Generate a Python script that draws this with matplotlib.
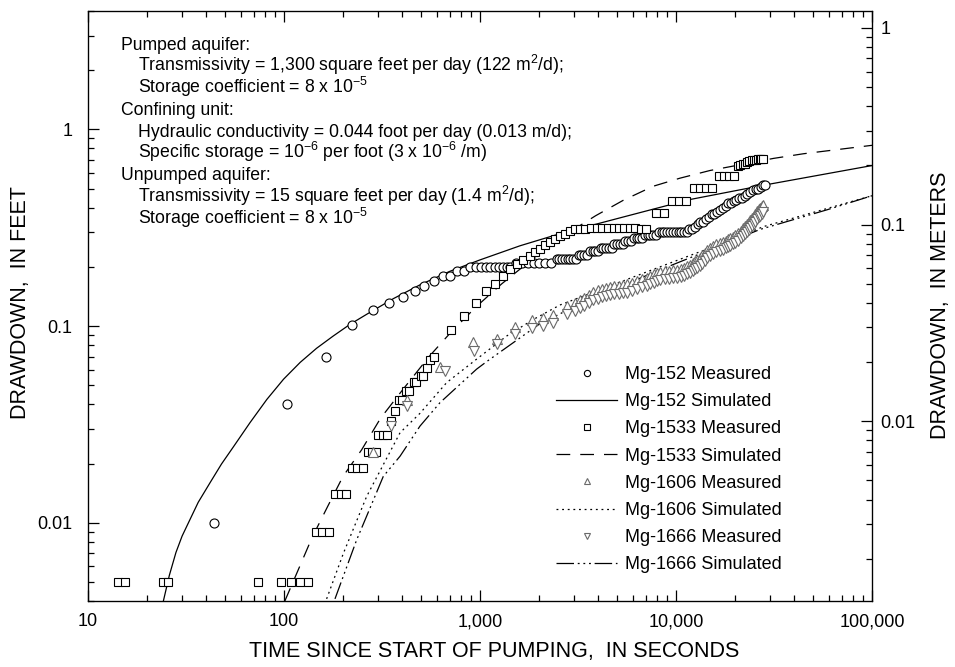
import numpy as np
import matplotlib
matplotlib.use("Agg")
import matplotlib.pyplot as plt
from matplotlib.ticker import LogLocator, NullFormatter, FixedLocator, FixedFormatter
from matplotlib.lines import Line2D

plt.rcParams["font.family"] = "Liberation Sans"
plt.rcParams["mathtext.fontset"] = "custom"
plt.rcParams["mathtext.rm"] = "Liberation Sans"
plt.rcParams["mathtext.default"] = "regular"

# ── Measured drawdown (time in seconds, drawdown in feet) ─────
t152 = [44, 103, 164, 223, 284, 345, 404, 464, 520, 582, 646, 703, 766, 825,
        889, 950, 1010, 1070, 1130, 1190, 1250, 1310, 1370, 1430,
        1530, 1640, 1760, 1880, 2010, 2150, 2300,
        2460, 2540, 2620, 2710, 2800, 2890, 2990, 3090, 3190, 3290, 3400, 3510,
        3630, 3750, 3870, 4000, 4130, 4260, 4400, 4550, 4700, 4850, 5000, 5170,
        5350, 5520, 5700, 5900, 6100, 6300, 6500, 6720, 6950, 7170, 7400, 7650,
        7900, 8170, 8450, 8720, 9000, 9300, 9600, 9950, 10300, 10650, 11000, 11350,
        11700, 12100, 12500, 12900, 13300, 13750, 14200, 14700, 15200, 15700,
        16200, 16750, 17300, 17900, 18500, 19100, 19700, 20300, 21000, 21700,
        22400, 23100, 23900, 24700, 25500, 26200, 27000, 27700, 28400]
s152 = [0.010, 0.040, 0.070, 0.101, 0.121, 0.131, 0.141, 0.150, 0.160, 0.170, 0.180, 0.180, 0.190, 0.191,
        0.20, 0.20, 0.20, 0.20, 0.20, 0.20, 0.20, 0.20, 0.20, 0.20,
        0.21, 0.21, 0.21, 0.21, 0.21, 0.21, 0.21,
        0.22, 0.22, 0.22, 0.22, 0.22, 0.22, 0.22, 0.22, 0.23, 0.23, 0.23, 0.23,
        0.24, 0.24, 0.24, 0.24, 0.25, 0.25, 0.25, 0.25, 0.25, 0.26, 0.26, 0.26,
        0.26, 0.27, 0.27, 0.27, 0.28, 0.28, 0.28, 0.28, 0.29, 0.29, 0.29, 0.29,
        0.29, 0.30, 0.30, 0.30, 0.30, 0.30, 0.30, 0.30, 0.30, 0.30, 0.30, 0.30,
        0.31, 0.31, 0.32, 0.33, 0.34, 0.34, 0.35, 0.36, 0.37, 0.37,
        0.38, 0.39, 0.40, 0.41, 0.42, 0.42, 0.43, 0.44, 0.45, 0.45,
        0.46, 0.47, 0.48, 0.49, 0.50, 0.50, 0.51, 0.52, 0.52]

t1533 = [14.2, 15.5, 24.2, 25.6, 74, 97, 109, 121, 133,
         146, 157, 169, 183, 195, 207, 221, 237, 253, 267, 280, 294,
         303, 319, 336, 350, 367, 388, 400, 420, 432, 460, 472, 498, 510,
         534, 556, 585, 711, 832, 955, 1070, 1193, 1305,
         1422, 1538, 1663, 1800, 1908, 2024, 2147, 2276, 2414, 2560, 2714, 2877,
         3050, 3250, 3450, 3700, 3950, 4200, 4500, 4800, 5100, 5450, 5800, 6200,
         6600, 7000, 7900, 8700, 9500, 10300, 11200,
         12400, 13300, 14200, 15200, 16600, 17600, 18600, 19700,
         20700, 21300, 21900, 22500, 23100, 23700, 24300, 24900, 25500,
         26100, 26700, 27300, 27900]
s1533 = [0.005, 0.005, 0.005, 0.005, 0.005, 0.005, 0.005, 0.005, 0.005,
         0.009, 0.009, 0.009, 0.014, 0.014, 0.014, 0.019, 0.019, 0.019, 0.023, 0.023, 0.023,
         0.028, 0.028, 0.028, 0.033, 0.037, 0.042, 0.042, 0.047, 0.047, 0.052, 0.052, 0.056, 0.056,
         0.061, 0.067, 0.070, 0.095, 0.112, 0.131, 0.150, 0.164, 0.179,
         0.194, 0.207, 0.218, 0.227, 0.238, 0.247, 0.257, 0.267, 0.278, 0.287, 0.295, 0.303,
         0.31, 0.31, 0.31, 0.315, 0.315, 0.315, 0.315, 0.315, 0.315, 0.315, 0.315, 0.315,
         0.31, 0.31, 0.377, 0.377, 0.434, 0.434, 0.434,
         0.506, 0.506, 0.506, 0.506, 0.582, 0.582, 0.582, 0.582,
         0.655, 0.66, 0.665, 0.67, 0.68, 0.69, 0.70, 0.70, 0.70,
         0.705, 0.71, 0.71, 0.71]

t1606 = [283, 426, 625, 925, 1217, 1510, 1837, 2106, 2366, 2768,
         3053, 3220, 3400, 3590, 3780, 3990, 4200, 4400, 4600, 4850, 5100, 5360,
         5620, 5950, 6300, 6700, 7110, 7400, 7700, 7990, 8280, 8740, 9200, 9650,
         10100, 10550, 11000, 11400, 11800, 12150, 12500, 12850, 13200, 13600,
         14000, 14450, 14900, 15450, 16000, 16700, 17400, 17900, 18400, 18950,
         19500, 20100, 20700, 21350, 22000, 22500, 23000, 23450, 23900, 24400,
         24900, 25400, 25900, 26400, 26900, 27350, 27800]
s1606 = [0.023, 0.042, 0.062, 0.083, 0.086, 0.099, 0.107, 0.110, 0.114, 0.126,
         0.131, 0.135, 0.139, 0.144, 0.149, 0.152, 0.155, 0.157, 0.158, 0.159, 0.160, 0.161,
         0.163, 0.166, 0.170, 0.173, 0.176, 0.180, 0.183, 0.186, 0.189, 0.190, 0.191, 0.192,
         0.193, 0.195, 0.198, 0.201, 0.205, 0.209, 0.213, 0.217, 0.222, 0.229,
         0.236, 0.243, 0.250, 0.255, 0.260, 0.264, 0.268, 0.272, 0.276, 0.280,
         0.285, 0.291, 0.298, 0.306, 0.315, 0.322, 0.330, 0.337, 0.345, 0.353,
         0.362, 0.373, 0.385, 0.392, 0.400, 0.408, 0.415]

t1666 = [351, 426, 662, 931, 1222, 1510, 1837, 2106, 2366, 2768,
         3053, 3220, 3400, 3590, 3780, 3990, 4200, 4400, 4600, 4850, 5100, 5360,
         5620, 5950, 6300, 6700, 7110, 7400, 7700, 7990, 8280, 8740, 9200, 9650,
         10100, 10550, 11000, 11400, 11800, 12150, 12500, 12850, 13200, 13600,
         14000, 14450, 14900, 15450, 16000, 16700, 17400, 17900, 18400, 18950,
         19500, 20100, 20700, 21350, 22000, 22500, 23000, 23450, 23900, 24400,
         24900, 25400, 25900, 26400, 26900, 27350, 27800]
s1666 = [0.031, 0.039, 0.059, 0.0745, 0.081, 0.091, 0.098, 0.100, 0.104, 0.115,
         0.119, 0.123, 0.127, 0.131, 0.135, 0.138, 0.141, 0.143, 0.144, 0.145, 0.146, 0.147,
         0.148, 0.151, 0.155, 0.158, 0.160, 0.163, 0.166, 0.169, 0.171, 0.173, 0.174, 0.175,
         0.176, 0.178, 0.180, 0.183, 0.186, 0.190, 0.194, 0.198, 0.202, 0.208,
         0.215, 0.222, 0.228, 0.233, 0.237, 0.241, 0.245, 0.249, 0.252, 0.256,
         0.260, 0.266, 0.272, 0.280, 0.287, 0.294, 0.300, 0.308, 0.315, 0.322,
         0.330, 0.340, 0.350, 0.357, 0.364, 0.371, 0.378]

# ── Simulated drawdown ─────────────────────────────────────────
sim_t152 = [24.2, 26.0, 28.1, 30.2, 32.5, 36.5, 42.3, 48.0, 55, 67.1, 81.8, 99.5, 121,
            146.6, 178, 217, 265, 362, 494, 703, 1000, 1600, 2560, 5180, 11780,
            29100, 100000]
sim_s152 = [0.00397, 0.0054, 0.00706, 0.00855, 0.00997, 0.0127, 0.0162, 0.0199, 0.0242,
            0.0323, 0.0424, 0.0537, 0.0654, 0.0771, 0.0889, 0.102, 0.115, 0.138, 0.162,
            0.190, 0.217, 0.256, 0.295, 0.355, 0.44, 0.524, 0.655]

sim_t1533 = [101, 122, 139, 167, 200, 249, 311, 405, 550, 716, 961, 1291,
             2000, 2990, 3890, 5380, 7650, 10480, 14900, 31400, 44700, 100000]
sim_s1533 = [0.004, 0.0062, 0.0084, 0.0121, 0.0172, 0.0235, 0.034, 0.0477, 0.070, 0.0938, 0.126, 0.164,
             0.233, 0.309, 0.364, 0.436, 0.514, 0.565, 0.618, 0.712, 0.752, 0.83]

sim_t1606 = [165, 201, 264, 391, 494, 676, 961, 1368, 1870, 2560, 4600, 8280,
             21200, 27800, 100000]
sim_s1606 = [0.0041, 0.0070, 0.0136, 0.0287, 0.0360, 0.0516, 0.0679, 0.089, 0.108, 0.128, 0.160, 0.200,
             0.285, 0.320, 0.46]

sim_t1666 = [182, 235, 264, 321, 391, 494, 625, 961, 1082, 2000, 3500, 8280,
             15000, 26840, 58900, 100000]
sim_s1666 = [0.0041, 0.0082, 0.0108, 0.0172, 0.0218, 0.031, 0.0408, 0.0604, 0.066, 0.102, 0.135, 0.193,
             0.245, 0.31, 0.39, 0.46]

x_ticks = [10, 100, 1000, 10000, 100000]
x_labels = ["10", "100", "1,000", "10,000", "100,000"]
ft_ticks = [0.01, 0.1, 1]
ft_labels = ["0.01", "0.1", "1"]
m_ticks = [0.01, 0.1, 1]
m_labels = ["0.01", "0.1", "1"]
FT_PER_M = 3.2808

notes = [
    ("Pumped aquifer:", 0),
    ("Transmissivity = 1,300 square feet per day (122 m$^{2}$/d);", 1),
    ("Storage coefficient = 8 x 10$^{-5}$", 1),
    ("Confining unit:", 0),
    ("Hydraulic conductivity = 0.044 foot per day (0.013 m/d);", 1),
    ("Specific storage = 10$^{-6}$ per foot (3 x 10$^{-6}$ /m)", 1),
    ("Unpumped aquifer:", 0),
    ("Transmissivity = 15 square feet per day (1.4 m$^{2}$/d);", 1),
    ("Storage coefficient = 8 x 10$^{-5}$", 1),
]

# line styles per well
DASH_1533 = (11, 8)
DOT_1606 = (1.5, 3)
DASHDOT_1666 = (14, 3, 1.5, 3, 1.5, 3, 1.5, 3)
TRI_GREY = "#6a6a6a"

# ── Figure ─────────────────────────────────────────────────────
fig = plt.figure(figsize=(9.55, 6.67), dpi=100)
ax = fig.add_axes([88 / 955, 66 / 667, 784 / 955, 590 / 667])
ax.set_xscale("log")
ax.set_yscale("log")
ax.set_xlim(10, 100000)
ax.set_ylim(0.004, 4)

lw = 0.9
ax.plot(sim_t152, sim_s152, color="black", lw=lw, zorder=2)
ax.plot(sim_t1533, sim_s1533, color="black", lw=lw, dashes=DASH_1533, zorder=2)
ax.plot(sim_t1606, sim_s1606, color="black", lw=lw, dashes=DOT_1606, zorder=2)
ax.plot(sim_t1666, sim_s1666, color="black", lw=lw, dashes=DASHDOT_1666, zorder=2)

mk = dict(linestyle="none", markerfacecolor="white", markeredgewidth=0.8, zorder=3)
ax.plot(t152, s152, marker="o", markersize=6.5, markeredgecolor="black", **mk)
ax.plot(t1533, s1533, marker="s", markersize=6, markeredgecolor="black", **mk)
ax.plot(t1606, s1606, marker="^", markersize=6.5, markeredgecolor=TRI_GREY, **mk)
ax.plot(t1666, s1666, marker="v", markersize=6.5, markeredgecolor=TRI_GREY, **mk)

ax.xaxis.set_major_locator(FixedLocator(x_ticks))
ax.xaxis.set_major_formatter(FixedFormatter(x_labels))
ax.xaxis.set_minor_locator(LogLocator(base=10, subs=np.arange(2, 10)))
ax.xaxis.set_minor_formatter(NullFormatter())
ax.yaxis.set_major_locator(FixedLocator(ft_ticks))
ax.yaxis.set_major_formatter(FixedFormatter(ft_labels))
ax.yaxis.set_minor_locator(LogLocator(base=10, subs=np.arange(2, 10)))
ax.yaxis.set_minor_formatter(NullFormatter())
ax.tick_params(axis="both", which="both", direction="in", top=True, right=False,
               width=0.9, labelsize=13)
ax.tick_params(axis="both", which="major", length=8)
ax.tick_params(axis="both", which="minor", length=4)
ax.tick_params(axis="x", pad=9)
ax.tick_params(axis="y", pad=11)
for sp in ax.spines.values():
    sp.set_linewidth(0.9)

# meters on the right side
ax2 = ax.twinx()
ax2.set_yscale("log")
ax2.set_ylim(0.004 / FT_PER_M, 4 / FT_PER_M)
ax2.yaxis.set_major_locator(FixedLocator(m_ticks))
ax2.yaxis.set_major_formatter(FixedFormatter(m_labels))
ax2.yaxis.set_minor_locator(LogLocator(base=10, subs=np.arange(2, 10)))
ax2.yaxis.set_minor_formatter(NullFormatter())
ax2.tick_params(axis="y", which="both", direction="in", width=0.9, labelsize=13, pad=6)
ax2.tick_params(axis="y", which="major", length=8)
ax2.tick_params(axis="y", which="minor", length=4)

# ── Parameter notes ────────────────────────────────────────────
for i, (line, indent) in enumerate(notes):
    yc = 49.5 + i * 21.8
    ax.text((121 + 17 * indent - 88) / 784, (601 - yc) / 590, line,
            transform=ax.transAxes, fontsize=12.7, ha="left", va="baseline")

# ── Legend ─────────────────────────────────────────────────────
def marker_handle(marker, edge):
    return Line2D([], [], marker=marker, markersize=4.5, markerfacecolor="white",
                  markeredgecolor=edge, markeredgewidth=0.8, linestyle="none")

handles = [
    marker_handle("o", "black"),
    Line2D([], [], color="black", lw=lw),
    marker_handle("s", "black"),
    Line2D([], [], color="black", lw=lw, dashes=DASH_1533),
    marker_handle("^", TRI_GREY),
    Line2D([], [], color="black", lw=lw, dashes=DOT_1606),
    marker_handle("v", TRI_GREY),
    Line2D([], [], color="black", lw=lw, dashes=DASHDOT_1666),
]
labels = ["Mg-152 Measured", "Mg-152 Simulated", "Mg-1533 Measured", "Mg-1533 Simulated",
          "Mg-1606 Measured", "Mg-1606 Simulated", "Mg-1666 Measured", "Mg-1666 Simulated"]
ax.legend(handles, labels, loc="upper left", bbox_to_anchor=((556 - 88) / 784, (601 - 366) / 590),
          frameon=False, fontsize=13, handlelength=3.4, handletextpad=0.4,
          labelspacing=0.565, borderpad=0, borderaxespad=0, numpoints=1)

# ── Axis titles ────────────────────────────────────────────────
fig.text(494 / 955, 1 - 652 / 667, "TIME SINCE START OF PUMPING,  IN SECONDS",
         fontsize=15.5, ha="center", va="center")
fig.text(21 / 955, 1 - 303 / 667, "DRAWDOWN,  IN FEET", fontsize=15.5,
         rotation=90, ha="center", va="center")
fig.text(940 / 955, 1 - 305 / 667, "DRAWDOWN,  IN METERS", fontsize=15.5,
         rotation=90, ha="center", va="center")

fig.savefig("out.png", dpi=100)
